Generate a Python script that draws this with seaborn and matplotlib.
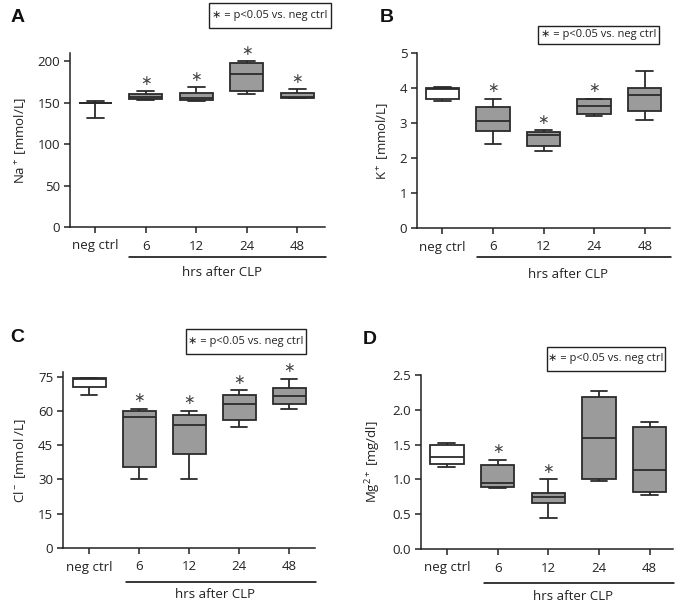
import numpy as np
import pandas as pd
import matplotlib
matplotlib.use("Agg")
import matplotlib.pyplot as plt
import matplotlib.transforms as mtransforms
import seaborn as sns

sns.set_theme(style="ticks")
plt.rcParams['font.family'] = ['Open Sans', 'DejaVu Sans']
plt.rcParams['mathtext.fontset'] = 'custom'
plt.rcParams['mathtext.rm'] = 'Open Sans'
plt.rcParams['mathtext.it'] = 'Open Sans'
plt.rcParams['mathtext.default'] = 'regular'

groups = ["neg ctrl", "6", "12", "24", "48"]

# five-number summaries (min, q1, median, q3, max) per group
na_vals = {
    "neg ctrl": [131, 150, 150, 150, 152.5],
    "6": [153.5, 154.5, 157.5, 160.5, 164],
    "12": [152, 153, 155.5, 162, 168.5],
    "24": [160.5, 164, 184.5, 198.5, 200],
    "48": [155.5, 156, 157, 162, 166.5],
}
k_vals = {
    "neg ctrl": [3.62, 3.69, 3.96, 3.99, 4.02],
    "6": [2.4, 2.78, 3.05, 3.47, 3.7],
    "12": [2.2, 2.35, 2.65, 2.75, 2.8],
    "24": [3.2, 3.25, 3.5, 3.68, 3.7],
    "48": [3.1, 3.35, 3.8, 4.0, 4.5],
}
cl_vals = {
    "neg ctrl": [67, 70.5, 74, 74.5, 74.5],
    "6": [30, 35.5, 57.5, 60, 61],
    "12": [30, 41, 54, 58, 60],
    "24": [53, 56, 63, 67, 69],
    "48": [61, 63, 66.5, 70, 74],
}
mg_vals = {
    "neg ctrl": [1.185, 1.22, 1.32, 1.49, 1.52],
    "6": [0.88, 0.89, 0.95, 1.2, 1.28],
    "12": [0.45, 0.66, 0.75, 0.81, 1.0],
    "24": [0.98, 1.01, 1.59, 2.18, 2.27],
    "48": [0.78, 0.82, 1.13, 1.76, 1.83],
}

na_sig = ["6", "12", "24", "48"]
k_sig = ["6", "12", "24"]
cl_sig = ["6", "12", "24", "48"]
mg_sig = ["6", "12"]

na_ticks = [0, 50, 100, 150, 200]
k_ticks = [0, 1, 2, 3, 4, 5]
cl_ticks = [0, 15, 30, 45, 60, 75]
mg_ticks = [0.0, 0.5, 1.0, 1.5, 2.0, 2.5]
mg_ticklabels = ["0.0", "0.5", "1.0", "1.5", "2.0", "2.5"]

W, H = 685, 608
fig = plt.figure(figsize=(W / 100, H / 100), dpi=100)

LINE = "#2b2b2b"
FILL = "#9b9b9b"


def make_df(vals):
    rows = []
    for g in groups:
        for v in vals[g]:
            rows.append((g, v))
    return pd.DataFrame(rows, columns=["group", "value"])


def panel(rect, vals, sig, ylim, yticks, yticklabels, ylabel, letter, letter_xy,
          legend_rect, xlim, line_start, line_y, text_y):
    x0, y0, x1, y1 = rect  # pixel coords (left, top, right, bottom)
    ax = fig.add_axes([x0 / W, 1 - y1 / H, (x1 - x0) / W, (y1 - y0) / H])
    df = make_df(vals)
    palette = {g: ("white" if g == "neg ctrl" else FILL) for g in groups}
    sns.boxplot(data=df, x="group", y="value", hue="group", order=groups,
                hue_order=groups, palette=palette, legend=False, ax=ax,
                whis=(0, 100), width=0.66, linewidth=1.3, linecolor=LINE,
                showfliers=False, saturation=1)
    ax.set_xlim(*xlim)
    ax.set_ylim(*ylim)
    ax.set_yticks(yticks)
    ax.set_yticklabels(yticklabels)
    ax.set_xlabel("")
    ax.set_ylabel(ylabel, fontsize=9.5, color="#222222", labelpad=7)
    for s in ["top", "right"]:
        ax.spines[s].set_visible(False)
    for s in ["left", "bottom"]:
        ax.spines[s].set_color("#222222")
        ax.spines[s].set_linewidth(1.1)
    ax.tick_params(axis="both", direction="out", length=4, width=1.1,
                   color="#222222", labelsize=9.5, labelcolor="#222222", pad=3)
    ax.tick_params(axis="x", pad=5)
    # significance asterisks above top whisker
    for g in sig:
        i = groups.index(g)
        top = max(vals[g])
        ax.annotate("∗", xy=(i, top), xytext=(0, 2.5), textcoords="offset points",
                    ha="center", va="bottom", fontsize=10, color="#444444",
                    family=["DejaVu Sans"], annotation_clip=False)
    # bracket line + "hrs after CLP"
    trans = mtransforms.blended_transform_factory(ax.transData, fig.transFigure)
    ax.plot([line_start, xlim[1] + 0.02], [1 - line_y / H, 1 - line_y / H],
            transform=trans, color="black", lw=1.1, clip_on=False)
    ax.text((line_start + xlim[1]) / 2 - 0.1, 1 - text_y / H, "hrs after CLP",
            transform=trans, ha="center", va="center", fontsize=9.5,
            color="#222222")
    # panel letter
    fig.text(letter_xy[0] / W, 1 - letter_xy[1] / H, letter, fontsize=14,
             fontweight="bold", ha="left", va="center", color="#111111",
             family=["Liberation Sans", "DejaVu Sans"])
    # legend box
    lx0, ly0, lx1, ly1 = legend_rect
    fig.patches.append(plt.Rectangle((lx0 / W, 1 - ly1 / H), (lx1 - lx0) / W,
                                     (ly1 - ly0) / H, transform=fig.transFigure,
                                     fill=False, edgecolor="#222222", lw=1.0))
    fig.text((lx0 + lx1) / 2 / W, 1 - (ly0 + ly1) / 2 / H,
             "∗ = p<0.05 vs. neg ctrl", ha="center", va="center",
             fontsize=8, color="#222222", family=["Open Sans", "DejaVu Sans"])
    return ax


panel((70, 53, 325, 227), na_vals, na_sig, (0, 210), na_ticks,
      [str(t) for t in na_ticks], "Na$^+$ [mmol/L]", "A", (11, 17),
      (209, 3, 331, 28), (-0.5, 4.55), 0.67, 257, 272)
panel((417, 53, 670, 228), k_vals, k_sig, (0, 5), k_ticks,
      [str(t) for t in k_ticks], "K$^+$ [mmol/L]", "B", (380, 17),
      (538, 26, 659, 44), (-0.5, 4.5), 0.68, 257, 275)
panel((63, 372, 315, 548), cl_vals, cl_sig, (0, 77), cl_ticks,
      [str(t) for t in cl_ticks], "Cl$^-$ [mmol /L]", "C", (10, 338),
      (186, 329, 306, 354), (-0.52, 4.52), 0.73, 582, 595)
panel((421, 375, 673, 549), mg_vals, mg_sig, (0, 2.5), mg_ticks,
      mg_ticklabels, "Mg$^{2+}$ [mg/dl]", "D", (363, 339),
      (547, 347, 665, 371), (-0.51, 4.46), 0.73, 583, 597)

fig.savefig("out.png", dpi=100, facecolor="white")
